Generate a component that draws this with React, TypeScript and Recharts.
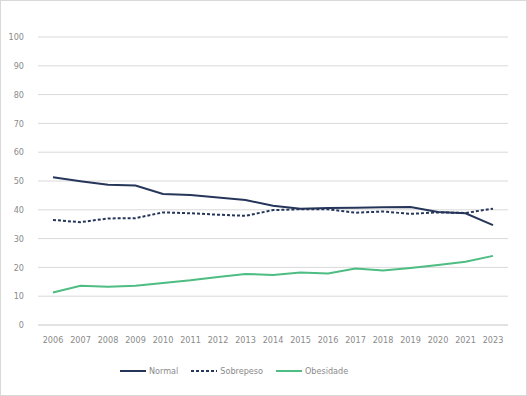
import React from "react";
import { LineChart, Line, XAxis, YAxis, CartesianGrid, Legend } from "recharts";

const years = ["2006","2007","2008","2009","2010","2011","2012","2013","2014","2015","2016","2017","2018","2019","2020","2021","2023"];
const normal = [51.3,49.9,48.7,48.4,45.5,45.1,44.3,43.4,41.4,40.4,40.6,40.7,40.9,41.0,39.2,38.8,34.7];
const sobrepeso = [36.5,35.7,37.0,37.1,39.1,38.8,38.3,37.9,39.9,40.2,40.2,39.0,39.4,38.6,39.1,38.9,40.4];
const obesidade = [11.3,13.6,13.3,13.6,14.6,15.5,16.7,17.7,17.4,18.2,17.9,19.6,18.9,19.8,20.8,22.0,24.0];
const yTicks = [0,10,20,30,40,50,60,70,80,90,100];

const data = years.map((y, i) => ({ year: y, Normal: normal[i], Sobrepeso: sobrepeso[i], Obesidade: obesidade[i] }));

const NAVY = "#26365a";
const GREEN = "#4dbd82";
const TEXT = "#8a8a8a";
const FONT = "'Liberation Sans Narrow', 'DejaVu Sans Condensed', Arial, sans-serif";

const legendItems = [
  { name: "Normal", color: NAVY, dash: undefined as string | undefined },
  { name: "Sobrepeso", color: NAVY, dash: "3 2" },
  { name: "Obesidade", color: GREEN, dash: undefined as string | undefined },
];

const LegendContent = () => (
  <div style={{ display: "flex", justifyContent: "flex-start", gap: 13, fontFamily: FONT, fontSize: 9, color: TEXT, paddingLeft: 112 }}>
    {legendItems.map((it) => (
      <div key={it.name} style={{ display: "flex", alignItems: "center" }}>
        <svg width={26} height={6} style={{ marginRight: 3 }}>
          <line x1={0} y1={3} x2={26} y2={3} stroke={it.color} strokeWidth={2} strokeDasharray={it.dash} />
        </svg>
        <span>{it.name}</span>
      </div>
    ))}
  </div>
);

export default function App() {
  return (
    <div style={{ position: "fixed", left: 0, top: 0, width: 527, height: 396, background: "#fff", boxSizing: "border-box", border: "1px solid #d9d9d9" }}>
      <LineChart width={525} height={394} data={data} margin={{ top: 36, right: 18, left: 7, bottom: 9 }}>
        <CartesianGrid vertical={false} stroke="#d9d9d9" strokeWidth={1} />
        <XAxis dataKey="year" axisLine={{ stroke: "#d9d9d9" }} tickLine={false} tick={{ fill: TEXT, fontSize: 9, fontFamily: FONT }} interval={0} height={41} tickMargin={6} padding={{ left: 15, right: 15 }} />
        <YAxis domain={[0, 100]} ticks={yTicks} axisLine={false} tickLine={false} width={30} tick={{ fill: TEXT, fontSize: 9, fontFamily: FONT }} tickMargin={8} />
        <Legend verticalAlign="bottom" height={20} content={<LegendContent />} />
        <Line type="linear" dataKey="Normal" stroke={NAVY} strokeWidth={2} dot={false} isAnimationActive={false} />
        <Line type="linear" dataKey="Sobrepeso" stroke={NAVY} strokeWidth={2} strokeDasharray="3 2" dot={false} isAnimationActive={false} />
        <Line type="linear" dataKey="Obesidade" stroke={GREEN} strokeWidth={2} dot={false} isAnimationActive={false} />
      </LineChart>
    </div>
  );
}
